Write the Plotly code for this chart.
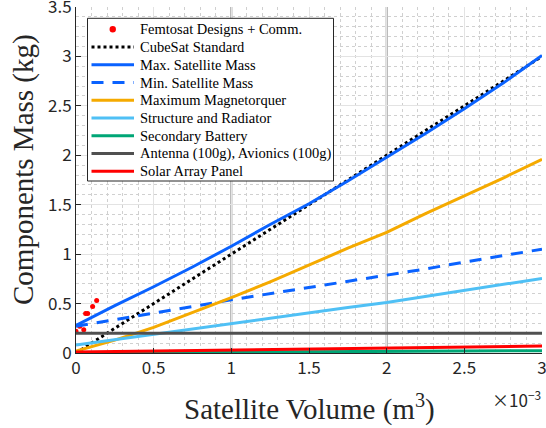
import plotly.graph_objects as go

# ---------------- data (volume in units of 1e-3 m^3, mass in kg) ----------------
VOLUME = [0, 0.25, 0.5, 0.75, 1.0, 1.25, 1.5, 1.75, 2.0, 2.25, 2.5, 2.75, 3.0]

FEMTO_VOLUME = [0.0, 0.024, 0.05, 0.062, 0.075, 0.107, 0.133]
FEMTO_MASS = [0.22, 0.27, 0.235, 0.40, 0.40, 0.47, 0.53]

CUBESAT_VOLUME = [0.0, 3.0]
CUBESAT_MASS = [0.0, 3.0]

MAX_SAT_MASS = [0.28, 0.48, 0.67, 0.87, 1.08, 1.30, 1.51, 1.74, 1.98, 2.22, 2.47, 2.73, 3.01]
MIN_SAT_MASS = [0.27, 0.335, 0.40, 0.47, 0.538, 0.60, 0.66, 0.72, 0.785, 0.85, 0.92, 0.985, 1.05]
MAGNETORQUER = [0.02, 0.13, 0.26, 0.41, 0.56, 0.72, 0.89, 1.06, 1.22, 1.41, 1.59, 1.77, 1.96]
STRUCTURE = [0.08, 0.135, 0.19, 0.245, 0.30, 0.355, 0.41, 0.46, 0.51, 0.57, 0.63, 0.69, 0.755]
BATTERY = [0.0, 0.002, 0.004, 0.006, 0.008, 0.01, 0.012, 0.014, 0.016, 0.018, 0.02, 0.022, 0.024]
ANTENNA_AVIONICS = [0.2] * 13
SOLAR_ARRAY = [0.01, 0.015, 0.02, 0.025, 0.03, 0.035, 0.04, 0.045, 0.05, 0.055, 0.06, 0.065, 0.07]

REF_VOLUMES = [1.0, 2.0]

X_TICKS = [0, 0.5, 1, 1.5, 2, 2.5, 3]
Y_TICKS = [0, 0.5, 1, 1.5, 2, 2.5, 3, 3.5]

LEGEND_NAMES = ["Femtosat Designs + Comm.", "CubeSat Standard", "Max. Satellite Mass",
                "Min. Satellite Mass", "Maximum Magnetorquer", "Structure and Radiator",
                "Secondary Battery", "Antenna (100g), Avionics (100g)", "Solar Array Panel"]

# ---------------- styles ----------------
SERIF = "Liberation Serif"
SANS = "Noto Sans CJK JP"
AX_COLOR = "#262626"
GRID = "#e3e3e3"
MINOR_GRID = "#d0d0d0"

W, H = 546, 428
ML, MR, MT, MB = 76, 4, 7, 75
PW, PH = W - ML - MR, H - MT - MB


def px(x):
    return (x - ML) / PW


def py(y):
    return 1 - (y - MT) / PH


STYLES = [
    dict(mode="markers", marker=dict(color="#ff0000", size=5)),
    dict(mode="lines", line=dict(color="#000000", width=3, dash="dot")),
    dict(mode="lines", line=dict(color="#0a62ff", width=3)),
    dict(mode="lines", line=dict(color="#0a62ff", width=3, dash="12px,9px")),
    dict(mode="lines", line=dict(color="#f5aa00", width=3)),
    dict(mode="lines", line=dict(color="#4fc0f5", width=3)),
    dict(mode="lines", line=dict(color="#00a676", width=3)),
    dict(mode="lines", line=dict(color="#505050", width=3)),
    dict(mode="lines", line=dict(color="#ff0000", width=3)),
]
SERIES = [
    (FEMTO_VOLUME, FEMTO_MASS),
    (CUBESAT_VOLUME, CUBESAT_MASS),
    (VOLUME, MAX_SAT_MASS),
    (VOLUME, MIN_SAT_MASS),
    (VOLUME, MAGNETORQUER),
    (VOLUME, STRUCTURE),
    (VOLUME, BATTERY),
    (VOLUME, ANTENNA_AVIONICS),
    (VOLUME, SOLAR_ARRAY),
]

fig = go.Figure()
for (xs, ys), name, st in zip(SERIES, LEGEND_NAMES, STYLES):
    fig.add_trace(go.Scatter(x=xs, y=ys, name=name, showlegend=False, **st))

for v in REF_VOLUMES:
    fig.add_vline(x=v, line=dict(color="#9a9a9a", width=2), layer="below")

shapes = []
# top / right light border
shapes.append(dict(type="line", xref="paper", yref="paper", x0=0, x1=1, y0=1, y1=1,
                   line=dict(color=GRID, width=1)))
shapes.append(dict(type="line", xref="paper", yref="paper", x0=1, x1=1, y0=0, y1=1,
                   line=dict(color=GRID, width=1)))

# ---------------- hand-built legend (MATLAB-like compact spacing) ----------------
LEG_L, LEG_R, LEG_T, LEG_B = 87.5, 333.5, 18.3, 181
ROW0, ROW_STEP = 29.3, 17.75
SAMPLE_X0, SAMPLE_X1, TEXT_X = 91.5, 134, 138.3

shapes.append(dict(type="rect", xref="paper", yref="paper", layer="above",
                   x0=px(LEG_L), x1=px(LEG_R), y0=py(LEG_B), y1=py(LEG_T),
                   fillcolor="white", line=dict(color="#262626", width=1)))
annotations = []
for i, (name, st) in enumerate(zip(LEGEND_NAMES, STYLES)):
    yc = ROW0 + i * ROW_STEP
    if st["mode"] == "markers":
        xc = (SAMPLE_X0 + SAMPLE_X1) / 2
        r = 3.2
        shapes.append(dict(type="circle", xref="paper", yref="paper", layer="above",
                           x0=px(xc - r), x1=px(xc + r), y0=py(yc + r), y1=py(yc - r),
                           fillcolor=st["marker"]["color"], line=dict(width=0)))
    else:
        shapes.append(dict(type="line", xref="paper", yref="paper", layer="above",
                           x0=px(SAMPLE_X0), x1=px(SAMPLE_X1), y0=py(yc), y1=py(yc),
                           line=st["line"]))
    annotations.append(dict(text=name, xref="paper", yref="paper",
                            x=px(TEXT_X), y=py(yc), xanchor="left", yanchor="middle",
                            showarrow=False,
                            font=dict(family=SERIF, size=14.5, color="#000000")))

# axis titles and exponent label
annotations.append(dict(text="Satellite Volume (m<sup>3</sup>)", xref="paper", yref="paper",
                        x=0.5, y=py(407), xanchor="center", yanchor="middle",
                        showarrow=False,
                        font=dict(family=SERIF, size=29, color=AX_COLOR)))
annotations.append(dict(text="Components Mass (kg)", xref="paper", yref="paper",
                        x=px(23), y=py(170), xanchor="center", yanchor="middle",
                        textangle=-90, showarrow=False,
                        font=dict(family=SERIF, size=29, color=AX_COLOR)))
annotations.append(dict(text="\u00d710<sup>\u22123</sup>", xref="paper", yref="paper",
                        x=px(543), y=py(384), xanchor="right", yanchor="top",
                        showarrow=False,
                        font=dict(family=SANS, size=17, color=AX_COLOR)))

fig.update_layout(
    width=W, height=H,
    margin=dict(l=ML, r=MR, t=MT, b=MB, autoexpand=False),
    paper_bgcolor="white", plot_bgcolor="white",
    showlegend=False,
    shapes=shapes,
    annotations=annotations,
    xaxis=dict(range=[0, 3], tickvals=X_TICKS, ticks="inside", ticklen=5,
               tickcolor=AX_COLOR, showline=True, linecolor=AX_COLOR, linewidth=1,
               showgrid=True, gridcolor=GRID, gridwidth=1, zeroline=False,
               ticklabeloverflow="allow", automargin=False,
               minor=dict(dtick=0.1, showgrid=True, gridcolor=MINOR_GRID,
                          griddash="dot", gridwidth=1),
               tickfont=dict(family=SANS, size=17, color=AX_COLOR)),
    yaxis=dict(range=[0, 3.5], tickvals=Y_TICKS, ticks="inside", ticklen=5,
               tickcolor=AX_COLOR, showline=True, linecolor=AX_COLOR, linewidth=1,
               showgrid=True, gridcolor=GRID, gridwidth=1, zeroline=False,
               ticklabeloverflow="allow", automargin=False,
               minor=dict(dtick=0.1, showgrid=True, gridcolor=MINOR_GRID,
                          griddash="dot", gridwidth=1),
               tickfont=dict(family=SANS, size=17, color=AX_COLOR)),
)

fig.write_html("out.html")
